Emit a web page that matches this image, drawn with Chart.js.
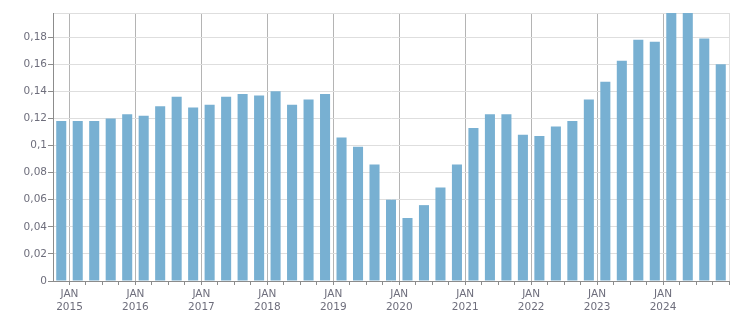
<!DOCTYPE html>
<html>
<head>
<meta charset="utf-8">
<script src="https://cdn.jsdelivr.net/npm/chart.js@4/dist/chart.umd.min.js"></script>
<style>
  html, body { margin: 0; padding: 0; background: #ffffff; }
  #wrap { width: 751px; height: 313px; position: relative; }
</style>
</head>
<body>
<div id="wrap"><canvas id="c" width="751" height="313"></canvas></div>
<script>
// Quarterly categories (Q4 2014 .. Q4 2024)
const categories = [
  "2014 Q4",
  "2015 Q1","2015 Q2","2015 Q3","2015 Q4",
  "2016 Q1","2016 Q2","2016 Q3","2016 Q4",
  "2017 Q1","2017 Q2","2017 Q3","2017 Q4",
  "2018 Q1","2018 Q2","2018 Q3","2018 Q4",
  "2019 Q1","2019 Q2","2019 Q3","2019 Q4",
  "2020 Q1","2020 Q2","2020 Q3","2020 Q4",
  "2021 Q1","2021 Q2","2021 Q3","2021 Q4",
  "2022 Q1","2022 Q2","2022 Q3","2022 Q4",
  "2023 Q1","2023 Q2","2023 Q3","2023 Q4",
  "2024 Q1","2024 Q2","2024 Q3","2024 Q4"
];
const values = [
  0.118,
  0.118, 0.118, 0.120, 0.123,
  0.122, 0.129, 0.136, 0.128,
  0.130, 0.136, 0.138, 0.137,
  0.140, 0.130, 0.134, 0.138,
  0.106, 0.099, 0.086, 0.060,
  0.0465, 0.056, 0.069, 0.086,
  0.113, 0.123, 0.123, 0.108,
  0.107, 0.114, 0.118, 0.134,
  0.147, 0.1625, 0.178, 0.1765,
  0.200, 0.200, 0.179, 0.160
];
const yTickValues = [0, 0.02, 0.04, 0.06, 0.08, 0.1, 0.12, 0.14, 0.16, 0.18];
const yMax = 0.1978;
const monthLabel = "JAN";

// quarter start (in fractional years) for each category
function quarterStart(cat) {
  const [y, q] = cat.split(" Q");
  return Number(y) + (Number(q) - 1) * 0.25;
}
const xStarts = categories.map(quarterStart);
const xMin = xStarts[0];
const xMax = xStarts[xStarts.length - 1] + 0.25;
const xTickValues = xStarts.concat([xMax]);
const points = categories.map((c, i) => ({ x: quarterStart(c) + 0.125, y: values[i] }));

const FONT = { family: "DejaVu Sans", size: 10.5, lineHeight: 1.25 };
const TEXT = "#6e6e7c";

new Chart(document.getElementById("c"), {
  type: "bar",
  data: {
    datasets: [{
      data: points,
      backgroundColor: "#78b0d2",
      borderWidth: 0,
      barPercentage: 0.61,
      categoryPercentage: 1.0,
      clip: 0
    }]
  },
  options: {
    responsive: false,
    animation: false,
    layout: { padding: { top: 13, right: 22, left: 0, bottom: 0 } },
    plugins: { legend: { display: false }, tooltip: { enabled: false } },
    scales: {
      x: {
        type: "linear",
        min: xMin,
        max: xMax,
        offset: false,
        afterBuildTicks: (s) => { s.ticks = xTickValues.map(v => ({ value: v })); },
        afterFit: (s) => { s.height = 32; },
        border: { display: true, color: "#8c8c8c", width: 1 },
        grid: {
          offset: false,
          drawTicks: true,
          tickLength: 4,
          color: (ctx) => {
            const v = ctx.tick ? ctx.tick.value : null;
            if (v === null) return "rgba(0,0,0,0)";
            if (v === xMax) return "#dedede";
            if (v === xMin) return "rgba(0,0,0,0)";
            if (Number.isInteger(v)) return "#b4b4b4";
            return "rgba(0,0,0,0)";
          },
          tickColor: (ctx) => {
            const v = ctx.tick ? ctx.tick.value : null;
            if (v === null || v === xMin) return "rgba(0,0,0,0)";
            return "#8c8c8c";
          }
        },
        ticks: {
          autoSkip: false,
          maxRotation: 0,
          minRotation: 0,
          padding: 3,
          color: TEXT,
          font: FONT,
          callback: (v) => (Number.isInteger(v) && v < xMax) ? [monthLabel, String(v)] : ""
        }
      },
      y: {
        min: 0,
        max: yMax,
        afterBuildTicks: (s) => { s.ticks = yTickValues.concat([yMax]).map(v => ({ value: v })); },
        afterFit: (s) => { s.width = 53; },
        border: { display: true, color: "#8c8c8c", width: 1 },
        grid: {
          drawTicks: true,
          tickLength: 5,
          color: "#dedede",
          tickColor: (ctx) => (ctx.tick && ctx.tick.value === yMax) ? "rgba(0,0,0,0)" : "#8c8c8c"
        },
        ticks: {
          padding: 1,
          color: TEXT,
          font: FONT,
          callback: (v) => v === yMax ? "" : String(Number(v.toFixed(2))).replace(".", ",")
        }
      }
    }
  }
});
</script>
</body>
</html>
